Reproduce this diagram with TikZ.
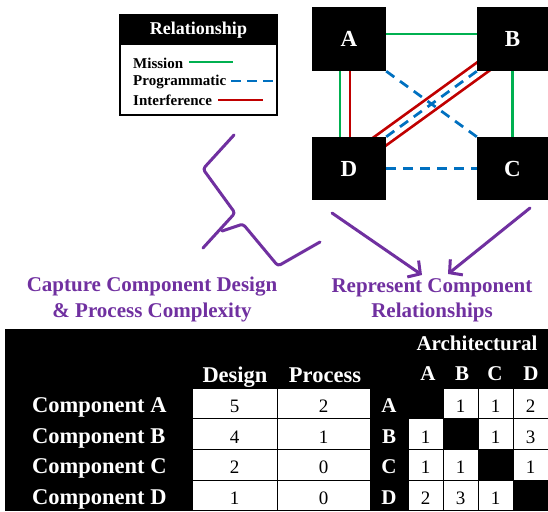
\documentclass[tikz,border=0pt]{standalone}
\usepackage{fontspec}
\setmainfont{Liberation Serif}
\usetikzlibrary{arrows.meta}
\definecolor{mgreen}{HTML}{00B050}
\definecolor{mblue}{HTML}{0070C0}
\definecolor{mred}{HTML}{C00000}
\definecolor{mpurple}{HTML}{7030A0}
\pgfdeclarelayer{bg}
\pgfsetlayers{bg,main}
\begin{document}
\begin{tikzpicture}[x=1pt,y=-1pt,
  comp/.style={fill=black, text=white, font=\bfseries\fontsize{23}{25}\selectfont, minimum width=74pt, minimum height=64pt, inner sep=0pt},
  mission/.style={draw=mgreen, line width=2.75pt},
  prog/.style={draw=mblue, line width=2.75pt, dash pattern=on 10pt off 7pt},
  interf/.style={draw=mred, line width=2.75pt},
  purp/.style={draw=mpurple, line width=3pt, line cap=round, line join=round},
  parrow/.style={purp, -{Straight Barb[length=9pt,width=20pt]}},
  legtxt/.style={font=\bfseries\fontsize{15}{16}\selectfont, inner sep=0pt, anchor=west},
  ptxt/.style={text=mpurple, font=\bfseries\fontsize{21}{25.5}\selectfont, align=center, inner sep=0pt},
  wlab/.style={text=white, font=\bfseries\fontsize{22.5}{24}\selectfont, inner sep=0pt},
  alab/.style={text=white, font=\bfseries\fontsize{21}{23}\selectfont, inner sep=0pt, anchor=base},
  cell/.style={draw=black, fill=white, line width=1pt, inner sep=0pt, minimum height=30.75pt,
               text height=18pt, text depth=0pt, font=\fontsize{19}{21}\selectfont},
  dcell/.style={cell, minimum width=85pt},
  pcell/.style={cell, minimum width=93pt},
  acell/.style={cell, minimum width=35pt}
]
\useasboundingbox (0,0) rectangle (548,511);

% ---------- component boxes ----------
\node[comp] (A) at (349,39) {A};
\node[comp, minimum width=71pt] (B) at (512.5,39) {B};
\node[comp, minimum height=63pt] (D) at (349,168.5) {D};
\node[comp, minimum width=71pt, minimum height=63pt] (C) at (512.5,168.5) {C};

% ---------- relationships ----------
\begin{pgfonlayer}{bg}
\draw[interf, double=white, double distance=11pt, shorten <=-16pt, shorten >=-16pt] (D.north east) -- (B.south west);
\end{pgfonlayer}
\draw[prog] (D.north east) -- (B.south west);
\draw[prog] (A.south east) -- (C.north west);
\draw[mission] ([yshift=5pt]A.east) -- ([yshift=5pt]B.west);
\draw[mission] ([xshift=-9pt]A.south) -- ([xshift=-9pt]D.north);
\draw[interf] ([xshift=1pt]A.south) -- ([xshift=1pt]D.north);
\draw[mission] (B.south) -- (C.north);
\draw[prog] (D.east) -- (C.west);

% ---------- legend ----------
\node[fill=black, minimum width=157pt, minimum height=30pt, inner sep=0pt, text=white,
      font=\bfseries\fontsize{18}{20}\selectfont] (legh) at (198.5,30) {Relationship};
\node[draw=black, line width=2.5pt, minimum width=157pt, minimum height=100pt, inner sep=0pt] (leg) at (198.5,65) {};
\node[legtxt] (lm) at (133,63) {Mission};
\node[legtxt] (lp) at (133,82) {Programmatic};
\node[legtxt] (li) at (133,100.5) {Interference};
\draw[mission] ([xshift=6pt,yshift=1pt]lm.east) -- ++(44,0);
\draw[prog, dash pattern=on 10pt off 6pt] ([xshift=5pt,yshift=1pt]lp.east) -- ++(45,0);
\draw[interf] ([xshift=6pt,yshift=0.5pt]li.east) -- ++(45,0);

% ---------- purple scribble and arrows ----------
\coordinate (z1) at (234,135);
\coordinate (z2) at (203,169);
\coordinate (z3) at (235,213);
\coordinate (z4) at (203,248);
\coordinate (w1) at (222,231);
\coordinate (w2) at (243,224);
\coordinate (w3) at (278,266);
\coordinate (w4) at (320,242);
\draw[purp, rounded corners=3pt] (z1) -- (z2) -- (z3) -- (z4);
\draw[purp, rounded corners=3pt] (w1) -- (w2) -- (w3) -- (w4);

\node[ptxt] (cap) at (152,299.5) {Capture Component Design\\\& Process Complexity};
\node[ptxt] (rep) at (432,300.5) {Represent Component\\Relationships};

\coordinate (r1) at (332,213);
\coordinate (r1e) at (422,275);
\coordinate (r2) at (530,208);
\coordinate (r2e) at (448,274);
\draw[parrow] (r1) -- (r1e);
\draw[parrow] (r2) -- (r2e);

% ---------- table ----------
\node[fill=black, minimum width=543pt, minimum height=182pt, inner sep=0pt, anchor=north west] (tbl) at (5,329) {};

\node[alab] (arch) at (477,350) {Architectural};
\node[wlab, anchor=base] (hd) at (235,382) {Design};
\node[wlab, anchor=base] (hp) at (325,382) {Process};
\node[alab] (ca) at (428,380) {A};
\node[alab] (cb) at (462,380) {B};
\node[alab] (cc) at (495,380) {C};
\node[alab] (cd) at (531,380) {D};

\node[wlab, anchor=base west] (ra) at (32,412) {Component A};
\node[wlab, anchor=base west] (rb) at (32,443) {Component B};
\node[wlab, anchor=base west] (rc) at (32,473.5) {Component C};
\node[wlab, anchor=base west] (rd) at (32,504) {Component D};

\node[dcell] (d1) at (234.5,403.4) {5};
\node[dcell] (d2) at (234.5,434.1) {4};
\node[dcell] (d3) at (234.5,464.9) {2};
\node[dcell] (d4) at (234.5,495.6) {1};
\node[pcell] (p1) at (323.5,403.4) {2};
\node[pcell] (p2) at (323.5,434.1) {1};
\node[pcell] (p3) at (323.5,464.9) {0};
\node[pcell] (p4) at (323.5,495.6) {0};

\node[alab] (la) at (389,412) {A};
\node[alab] (lb) at (389,443) {B};
\node[alab] (lc) at (389,473.5) {C};
\node[alab] (ld) at (389,504) {D};

% row A
\node[acell] (mab) at (460.5,403.4) {1};
\node[acell] (mac) at (495.5,403.4) {1};
\node[acell] (mad) at (530.5,403.4) {2};
% row B
\node[acell] (mba) at (425.5,434.1) {1};
\node[acell] (mbc) at (495.5,434.1) {1};
\node[acell] (mbd) at (530.5,434.1) {3};
% row C
\node[acell] (mca) at (425.5,464.9) {1};
\node[acell] (mcb) at (460.5,464.9) {1};
\node[acell] (mcd) at (530.5,464.9) {1};
% row D
\node[acell] (mda) at (425.5,495.6) {2};
\node[acell] (mdb) at (460.5,495.6) {3};
\node[acell] (mdc) at (495.5,495.6) {1};
\end{tikzpicture}
\end{document}
